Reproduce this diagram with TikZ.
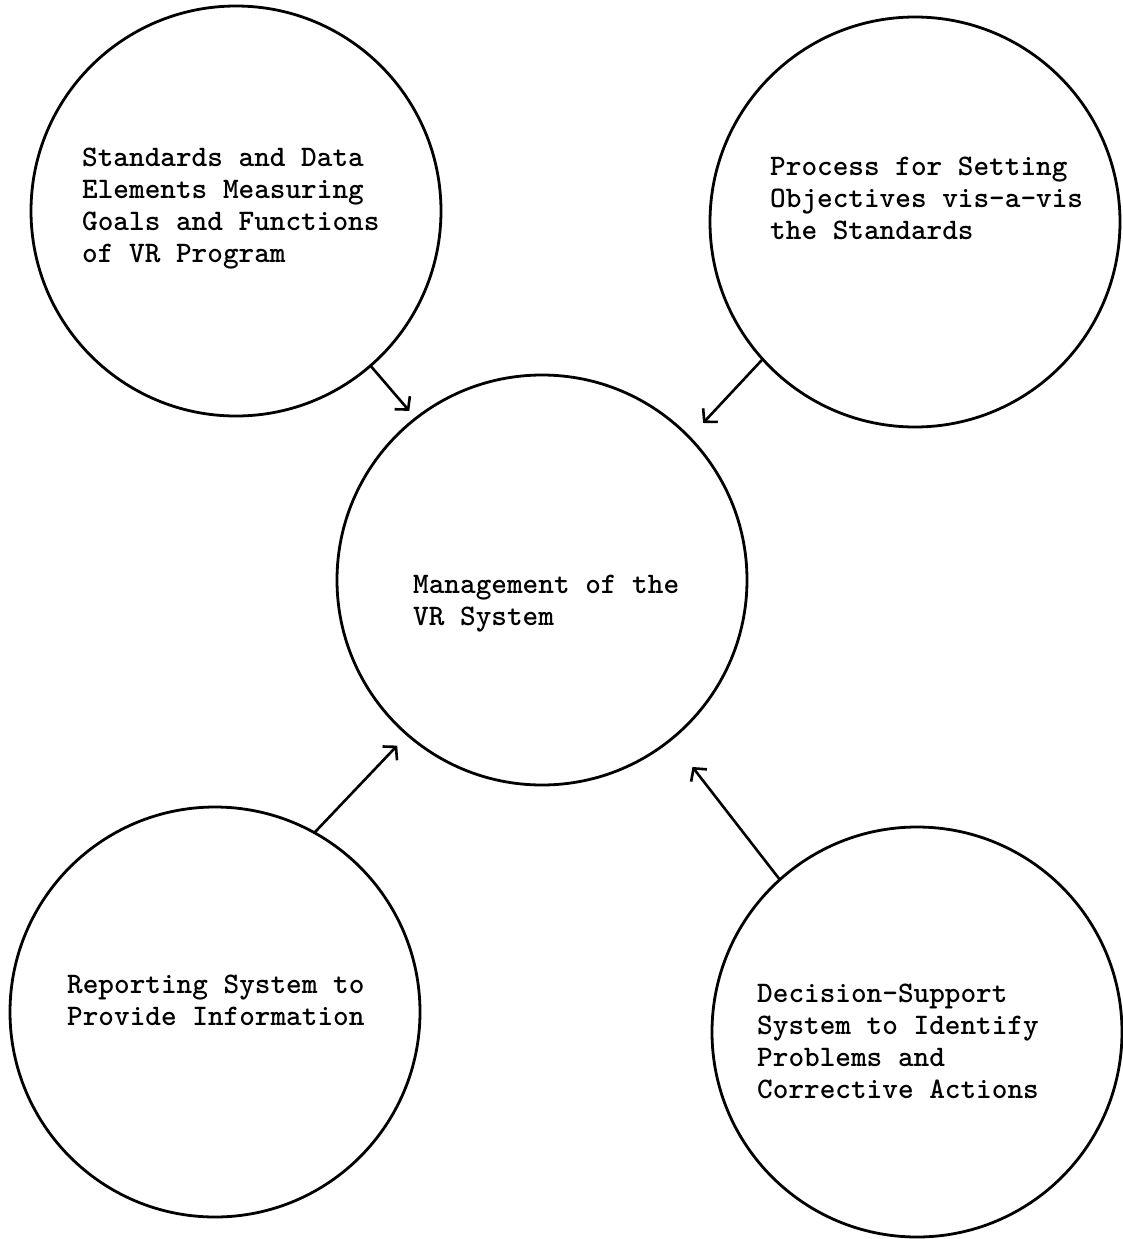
\documentclass[tikz,border=0pt]{standalone}
\usetikzlibrary{arrows.meta}
\begin{document}
\begin{tikzpicture}[x=1pt,y=-1pt,
  bubble/.style={draw, circle, line width=2.8pt, inner sep=0pt, outer sep=0pt, minimum size=410pt},
  txt/.style={anchor=base west, align=left, inner sep=0pt, font=\fontsize{29.8}{31.7}\selectfont\ttfamily\bfseries},
  flow/.style={line width=2.6pt, line cap=round, -{Straight Barb[length=9pt,width=20pt]}}]
\useasboundingbox (0,0) rectangle (1123,1239);
% circles
\node[bubble] (tl) at (236,211) {};
\node[bubble] (tr) at (915,222) {};
\node[bubble] (c)  at (542,580) {};
\node[bubble] (bl) at (215,1012) {};
\node[bubble] (br) at (917,1032) {};
% texts (anchored at the baseline of the last line)
\node[txt] (tltext) at (82,262) {Standards and Data\\Elements Measuring\\Goals and Functions\\of VR Program};
\node[txt] (trtext) at (770,239) {Process for Setting\\Objectives vis-a-vis\\the Standards};
\node[txt] (ctext)  at (413,625) {Management of the\\VR System};
\node[txt] (bltext) at (67,1025) {Reporting System to\\Provide Information};
\node[txt] (brtext) at (757,1098) {Decision-Support\\System to Identify\\Problems and\\Corrective Actions};
% arrows
\draw[flow, shorten >=10pt] (tl.311) -- (c.128);
\draw[flow, shorten >=20pt] (tr.222) -- (c.44);
\draw[flow, shorten >=15pt] (bl.61) -- (c.229);
\draw[flow, shorten >=35pt] (br.132) -- (c.309);
\end{tikzpicture}
\end{document}
